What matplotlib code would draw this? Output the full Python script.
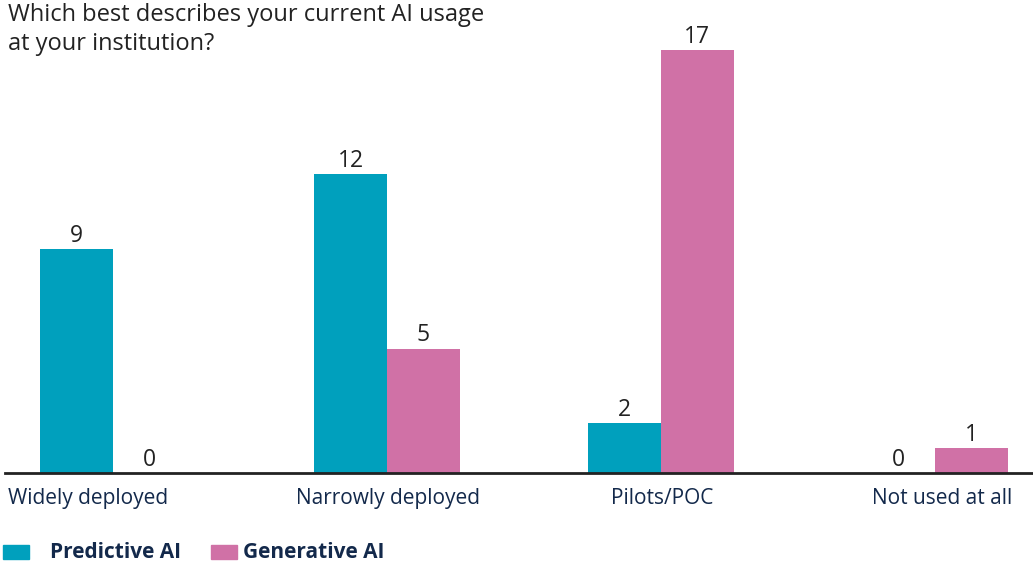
import matplotlib
matplotlib.use("Agg")
from matplotlib import pyplot as plt
from matplotlib.patches import Rectangle
import matplotlib.transforms as mtransforms
import numpy as np

plt.rcParams['font.family'] = ['Open Sans', 'DejaVu Sans']

categories = ['Widely deployed', 'Narrowly deployed', 'Pilots/POC', 'Not used at all']
predictive = [9, 12, 2, 0]
generative = [0, 5, 17, 1]
series_names = ['Predictive AI', 'Generative AI']

teal = '#00a0bd'
pink = '#d071a6'
navy = '#13294b'
text_dark = '#222222'

fig = plt.figure(figsize=(10.33, 5.64), dpi=100)
ax = fig.add_axes([5 / 1033, (564 - 473) / 564, 1 - 5 / 1033, (473 - 50) / 564])

x = np.arange(len(categories))
w = 0.266
b1 = ax.bar(x - w / 2, predictive, width=w, color=teal)
b2 = ax.bar(x + w / 2, generative, width=w, color=pink)

for bars, vals in ((b1, predictive), (b2, generative)):
    for bar, v in zip(bars, vals):
        ax.annotate(str(v), (bar.get_x() + bar.get_width() / 2, v),
                    xytext=(0, 1), textcoords='offset points',
                    ha='center', va='bottom', fontsize=16.5,
                    color=text_dark, annotation_clip=False)

ax.set_xlim(-0.394, 3.358)
ax.set_ylim(0, 17)
ax.set_yticks([])
ax.set_xticks(x)
ax.set_xticklabels([])
ax.tick_params(axis='x', length=0)
for s in ('top', 'right', 'left'):
    ax.spines[s].set_visible(False)
ax.spines['bottom'].set_color('#222222')
ax.spines['bottom'].set_linewidth(2)

# category labels, first one hugs the left edge like the reference
label_tr = ax.get_xaxis_transform()
shifts = [0, 1, 1, 7]
for i, cat in enumerate(categories):
    if i == 0:
        ax.text(0, -0.06, cat,
                transform=ax.transAxes + mtransforms.ScaledTranslation(3 / 100, 0, fig.dpi_scale_trans),
                ha='left', va='center', fontsize=15, color=navy)
        continue
    off = mtransforms.ScaledTranslation(shifts[i] / 100, 0, fig.dpi_scale_trans)
    ax.text(x[i], -0.06, cat, transform=label_tr + off,
            ha='center', va='center', fontsize=15, color=navy)

fig.text(8 / 1033, 1 - 3 / 564, 'Which best describes your current AI usage\nat your institution?',
         ha='left', va='top', fontsize=17, color=text_dark, linespacing=1.25)

# legend
fig.add_artist(Rectangle((3 / 1033, 1 - 559 / 564), 26 / 1033, 14 / 564,
                         transform=fig.transFigure, color=teal))
fig.text(50 / 1033, 1 - 552 / 564, series_names[0], ha='left', va='center',
         fontsize=15, fontweight='bold', color=navy)
fig.add_artist(Rectangle((211 / 1033, 1 - 559 / 564), 26 / 1033, 14 / 564,
                         transform=fig.transFigure, color=pink))
fig.text(243 / 1033, 1 - 552 / 564, series_names[1], ha='left', va='center',
         fontsize=15, fontweight='bold', color=navy)

fig.savefig('out.png', dpi=100)
